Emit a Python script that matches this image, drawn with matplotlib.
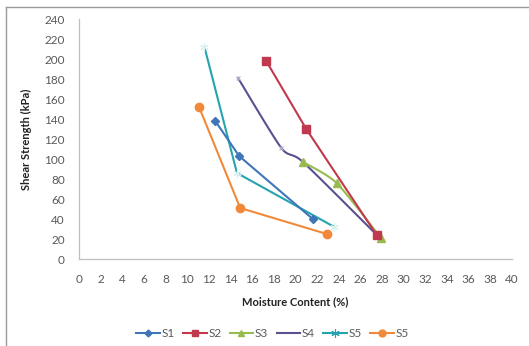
import numpy as np
import matplotlib
matplotlib.use("Agg")
import matplotlib.pyplot as plt
from matplotlib.lines import Line2D

plt.rcParams['font.family'] = ['Lato', 'DejaVu Sans']

# Moisture content (%) and shear strength (kPa) for each sample
s1_x = [12.6, 14.8, 21.6]
s1_y = [138, 103, 40]
s2_x = [17.3, 21.0, 27.5]
s2_y = [198, 130, 24]
s3_x = [20.7, 23.8, 27.9]
s3_y = [97, 76, 21]
s4_x = [14.7, 18.7, 20.7, 27.7]
s4_y = [181, 111, 97, 22]
s5_x = [11.6, 14.6, 23.6]
s5_y = [212, 86, 32]
s6_x = [11.1, 14.9, 22.9]
s6_y = [152, 51, 25]

labels = ["S1", "S2", "S3", "S4", "S5", "S5"]
x_ticks = list(range(0, 41, 2))
y_ticks = list(range(0, 241, 20))


def smooth(xs, ys, n=30, tension=0.35):
    """Cardinal-spline curve through the given points (spreadsheet-style smoothed line)."""
    p = np.column_stack([xs, ys]).astype(float)
    p = np.vstack([p[0], p, p[-1]])
    out = []
    for i in range(1, len(p) - 2):
        p0, p1, p2, p3 = p[i - 1], p[i], p[i + 1], p[i + 2]
        m1 = tension * (p2 - p0)
        m2 = tension * (p3 - p1)
        t = np.linspace(0, 1, n)[:, None]
        h00 = 2 * t ** 3 - 3 * t ** 2 + 1
        h10 = t ** 3 - 2 * t ** 2 + t
        h01 = -2 * t ** 3 + 3 * t ** 2
        h11 = t ** 3 - t ** 2
        out.append(h00 * p1 + h10 * m1 + h01 * p2 + h11 * m2)
    c = np.vstack(out)
    return c[:, 0], c[:, 1]


fig = plt.figure(figsize=(5.29, 3.46), dpi=100)
ax = fig.add_axes([0.149, 0.2514, 0.819, 0.6936])

lw = 1.5
ax.plot(s1_x, s1_y, color="#3F76B8", lw=lw, marker="D", ms=4.5, label=labels[0], zorder=5)
ax.plot(s2_x, s2_y, color="#C0394E", lw=lw, marker="s", ms=6, label=labels[1], zorder=5)

gx, gy = smooth(s3_x, s3_y)
ax.plot(gx, gy, color="#98BB4F", lw=lw, zorder=4)
ax.plot(s3_x, s3_y, color="#98BB4F", lw=0, marker="^", ms=6, zorder=4)

px, py = smooth(s4_x, s4_y)
ax.plot(px, py, color="#5A5190", lw=lw, zorder=3)
ax.plot(s4_x, s4_y, color="#B8B4D0", lw=0, marker="x", ms=3, mew=0.8, zorder=3)

ax.plot(s5_x, s5_y, color="#25A3AE", lw=lw, marker=(6, 2, 0), ms=6, mew=0.8,
        mec="#D8F0F2", zorder=4)
ax.plot(s6_x, s6_y, color="#F08A3A", lw=lw, marker="o", ms=6, zorder=4)

ax.set_xlim(0, 40)
ax.set_ylim(0, 240)
ax.set_xticks(x_ticks)
ax.set_yticks(y_ticks)
ax.tick_params(length=0, labelsize=8.5, colors="#595959", pad=11)
ax.tick_params(axis="y", pad=10)
for side in ("top", "right"):
    ax.spines[side].set_visible(False)
for side in ("left", "bottom"):
    ax.spines[side].set_color("#BFBFBF")
    ax.spines[side].set_linewidth(0.9)

ax.set_xlabel("Moisture Content (%)", fontsize=8, fontweight="bold", color="#222222", labelpad=8)
ax.set_ylabel("Shear Strength (kPa)", fontsize=8, fontweight="bold", color="#222222", labelpad=9)

handles = [
    Line2D([], [], color="#3F76B8", lw=lw, marker="D", ms=3.5),
    Line2D([], [], color="#C0394E", lw=lw, marker="s", ms=5),
    Line2D([], [], color="#98BB4F", lw=lw, marker="^", ms=5),
    Line2D([], [], color="#5A5190", lw=lw),
    Line2D([], [], color="#25A3AE", lw=lw, marker=(6, 2, 0), ms=6, mew=0.8),
    Line2D([], [], color="#F08A3A", lw=lw, marker="o", ms=5),
]
fig.legend(handles, labels, loc="center", bbox_to_anchor=(0.515, 0.037), ncol=6,
           frameon=False, fontsize=8.5, labelcolor="#595959", handlelength=2.0,
           handletextpad=0.15, columnspacing=0.7)

# outer chart border
fig.add_artist(Line2D([6 / 529, 6 / 529], [0, 1 - 7 / 346], transform=fig.transFigure,
                      color="#9A9A9A", lw=1))
fig.add_artist(Line2D([6 / 529, 1], [1 - 7 / 346, 1 - 7 / 346], transform=fig.transFigure,
                      color="#9A9A9A", lw=1))

fig.savefig("out.png", dpi=100)
